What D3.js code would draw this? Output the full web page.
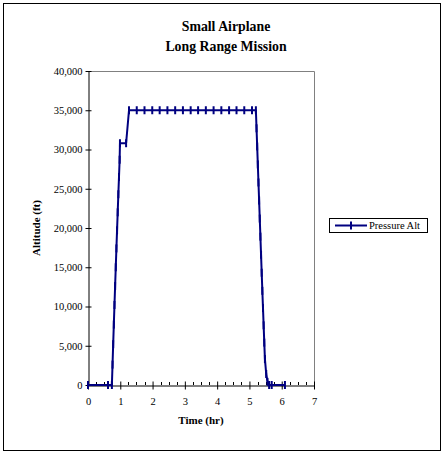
<!DOCTYPE html>
<html>
<head>
<meta charset="utf-8">
<script src="https://cdn.jsdelivr.net/npm/d3@7"></script>
<style>
  body { margin: 0; background: #fff; }
  svg { font-family: "Liberation Serif", "Times New Roman", serif; }
</style>
</head>
<body>
<svg id="chart" width="448" height="454"></svg>
<script>
// flight profile
const timeHr = [0, 0.62, 0.74, 0.76, 0.78, 0.80, 0.82, 0.84, 0.86, 0.88, 0.90, 0.92, 0.94, 0.96, 0.98,
  0.99, 1.18, 1.27, 1.51, 1.75, 1.99, 2.22, 2.46, 2.70, 2.94, 3.18, 3.41, 3.65, 3.89, 4.13, 4.37,
  4.60, 4.84, 5.08, 5.20, 5.22, 5.24, 5.26, 5.28, 5.30, 5.32, 5.34, 5.36, 5.38, 5.40, 5.42, 5.44,
  5.46, 5.48, 5.52, 5.56, 5.61, 5.69, 6.10];
const altFt = [0, 0, 0, 2600, 5200, 7700, 10200, 12600, 15000, 17400, 19700, 22000, 24300, 26500, 28700,
  30800, 30800, 35000, 35000, 35000, 35000, 35000, 35000, 35000, 35000, 35000, 35000, 35000, 35000, 35000, 35000,
  35000, 35000, 35000, 35000, 32700, 30400, 28100, 25800, 23500, 21200, 18900, 16600, 14300, 12000, 9800, 7600,
  5400, 3300, 1400, 400, 0, 0, 0];
const seriesName = 'Pressure Alt';
const xTicks = [0, 1, 2, 3, 4, 5, 6, 7];
const yTicks = [0, 5000, 10000, 15000, 20000, 25000, 30000, 35000, 40000];
const titleLines = ['Small Airplane', 'Long Range Mission'];

const lineColor = '#000080';
const svg = d3.select('#chart');

const points = timeHr.map((t, i) => ({ t: t, alt: altFt[i] }));

const plot = { left: 88, right: 314, top: 71, bottom: 385 };
const x = d3.scaleLinear().domain([0, 7]).range([plot.left, plot.right]);
const y = d3.scaleLinear().domain([0, 40000]).range([plot.bottom, plot.top]);

// outer chart frame
svg.append('rect')
  .attr('x', 3.5).attr('y', 3.5)
  .attr('width', 437).attr('height', 447)
  .attr('fill', 'none')
  .attr('stroke', '#000')
  .attr('stroke-width', 1);

// plot area border (top + right)
svg.append('path')
  .attr('d', 'M' + plot.left + ',' + (plot.top + 0.5) + 'H' + (plot.right + 0.5) + 'V' + plot.bottom)
  .attr('fill', 'none')
  .attr('stroke', '#808080')
  .attr('stroke-width', 1);

// title
svg.append('text')
  .attr('x', 226)
  .attr('text-anchor', 'middle')
  .attr('font-weight', 'bold')
  .attr('font-size', 13.8)
  .selectAll('tspan')
  .data(titleLines)
  .enter()
  .append('tspan')
  .attr('x', 226)
  .attr('y', (d, i) => 31 + i * 20)
  .text(d => d);

// y axis
const yAxis = svg.append('g')
  .attr('transform', 'translate(' + (plot.left + 0.5) + ',0)')
  .call(d3.axisLeft(y).tickValues(yTicks).tickFormat(d3.format(',')).tickSize(3).tickSizeOuter(0));
yAxis.selectAll('line').attr('x1', 3);
yAxis.selectAll('text')
  .attr('font-family', '"Liberation Serif", serif')
  .attr('font-size', 10.5)
  .attr('fill', '#000');
yAxis.select('.domain').attr('stroke', '#000');

// x axis minor ticks (upward)
const minor = d3.range(0, 7.01, 0.25).filter(v => Math.abs(v - Math.round(v)) > 0.01);
svg.append('g')
  .selectAll('line')
  .data(minor)
  .enter()
  .append('line')
  .attr('x1', d => Math.round(x(d)) + 0.5)
  .attr('x2', d => Math.round(x(d)) + 0.5)
  .attr('y1', plot.bottom)
  .attr('y2', plot.bottom - 3)
  .attr('stroke', '#000');

const xAxis = svg.append('g')
  .attr('transform', 'translate(0,' + (plot.bottom + 0.5) + ')')
  .call(d3.axisBottom(x).tickValues(xTicks).tickFormat(d3.format('d')).tickSize(4).tickSizeOuter(0).tickPadding(8));
xAxis.selectAll('line').attr('y1', -4);
xAxis.selectAll('text')
  .attr('font-family', '"Liberation Serif", serif')
  .attr('font-size', 10.5)
  .attr('fill', '#000');

// axis titles
svg.append('text')
  .attr('x', (plot.left + plot.right) / 2)
  .attr('y', 424)
  .attr('text-anchor', 'middle')
  .attr('font-weight', 'bold')
  .attr('font-size', 11)
  .text('Time (hr)');

svg.append('text')
  .attr('transform', 'translate(40,' + (plot.top + plot.bottom) / 2 + ') rotate(-90)')
  .attr('text-anchor', 'middle')
  .attr('font-weight', 'bold')
  .attr('font-size', 11)
  .text('Altitude (ft)');

// series line
const line = d3.line()
  .x(d => x(d.t))
  .y(d => y(d.alt));

svg.append('path')
  .datum(points)
  .attr('d', line)
  .attr('fill', 'none')
  .attr('stroke', lineColor)
  .attr('stroke-width', 2)
  .attr('stroke-linejoin', 'round');

// dash markers
svg.append('g')
  .selectAll('line')
  .data(points)
  .enter()
  .append('line')
  .attr('x1', d => x(d.t))
  .attr('x2', d => x(d.t))
  .attr('y1', d => y(d.alt) - 4)
  .attr('y2', d => y(d.alt) + 4)
  .attr('stroke', lineColor)
  .attr('stroke-width', 2);

// legend
const legend = svg.append('g').attr('transform', 'translate(329,218)');
legend.append('rect')
  .attr('x', 0.5).attr('y', 0.5)
  .attr('width', 98).attr('height', 14)
  .attr('fill', '#fff')
  .attr('stroke', '#000');
legend.append('line')
  .attr('x1', 6).attr('x2', 38)
  .attr('y1', 7.5).attr('y2', 7.5)
  .attr('stroke', lineColor)
  .attr('stroke-width', 2);
legend.append('line')
  .attr('x1', 22).attr('x2', 22)
  .attr('y1', 3.5).attr('y2', 11.5)
  .attr('stroke', lineColor)
  .attr('stroke-width', 2);
legend.append('text')
  .attr('x', 40)
  .attr('y', 11)
  .attr('font-size', 10.5)
  .text(seriesName);
</script>
</body>
</html>
